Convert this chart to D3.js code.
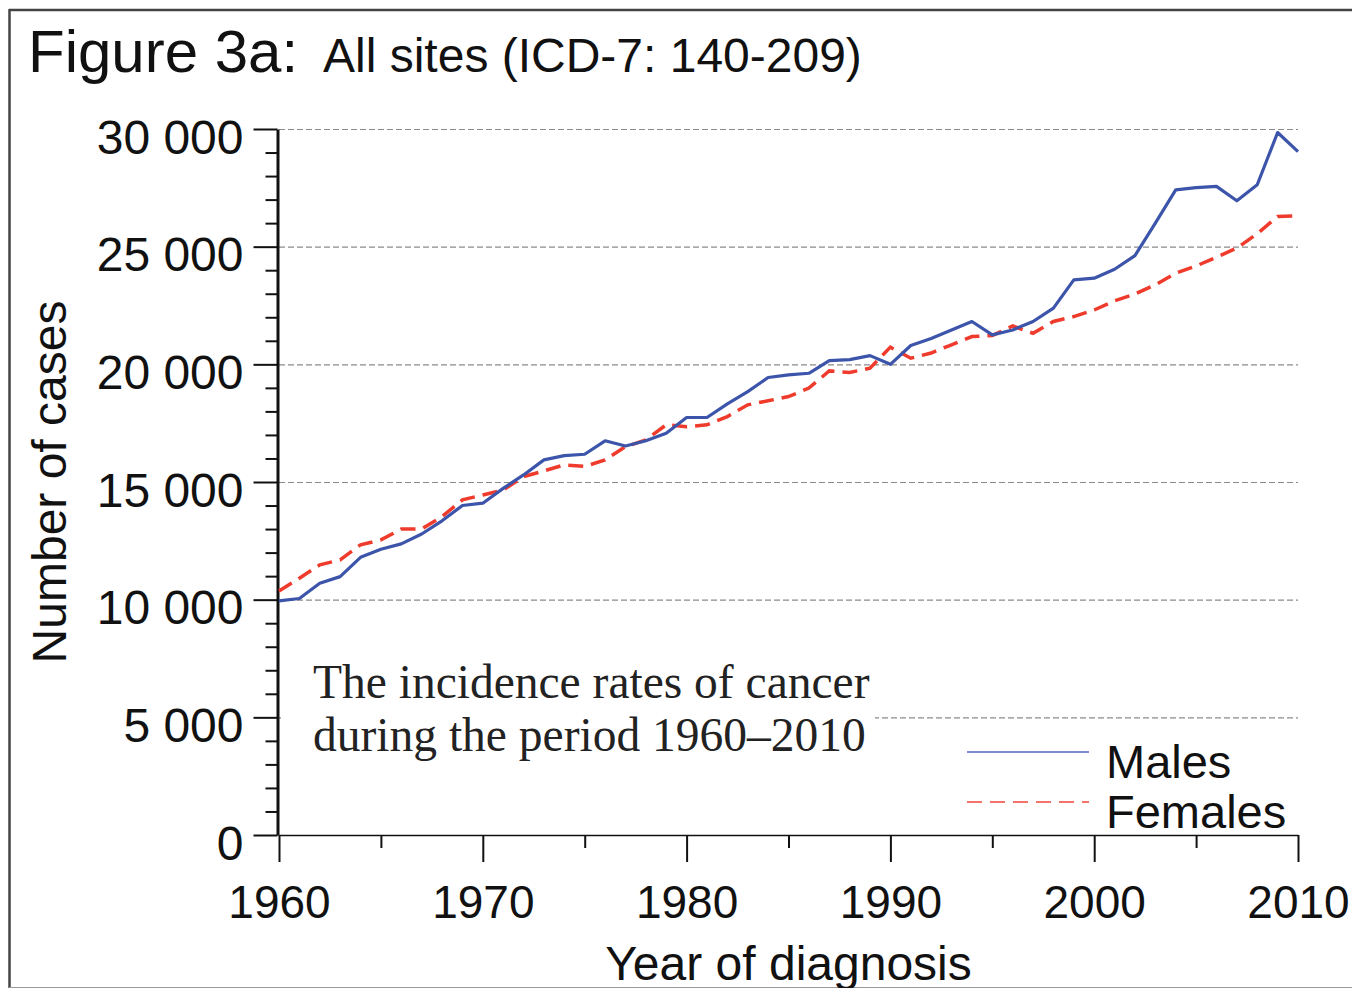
<!DOCTYPE html>
<html>
<head>
<meta charset="utf-8">
<script src="https://cdn.jsdelivr.net/npm/d3@7"></script>
<style>
  html, body { margin: 0; padding: 0; background: #fff; }
  svg { display: block; }
  text { font-family: "Liberation Sans", Arial, sans-serif; fill: #111; }
</style>
</head>
<body>
<div id="chart"></div>
<script>
// Figure 3a - number of cancer cases by year of diagnosis

const years = d3.range(1960, 2011);

const males = [
  9950, 10050, 10700, 10980, 11800, 12140, 12370, 12790, 13350, 14000,
  14100, 14730, 15300, 15940, 16120, 16180, 16750, 16530, 16750, 17070,
  17740, 17740, 18320, 18840, 19440, 19550, 19620, 20160, 20200, 20370,
  20000, 20800, 21100, 21460, 21820, 21250, 21460, 21820, 22390, 23590,
  23660, 24040, 24620, 26000, 27410, 27510, 27560, 26950, 27630, 29850,
  29040
];

const females = [
  10370, 10910, 11480, 11690, 12330, 12540, 13000, 13010, 13530, 14240,
  14450, 14660, 15230, 15470, 15730, 15660, 15940, 16500, 16790, 17430,
  17350, 17430, 17780, 18280, 18450, 18630, 18990, 19720, 19650, 19840,
  20730, 20260, 20480, 20830, 21180, 21220, 21630, 21320, 21820, 22030,
  22310, 22700, 22990, 23380, 23870, 24180, 24550, 24940, 25550, 26280,
  26310
];

const yMajorTicks = [0, 5000, 10000, 15000, 20000, 25000, 30000];
const yMinorTicks = d3.range(0, 30001, 1000).filter(v => v % 5000 !== 0);
const xMajorTicks = [1960, 1970, 1980, 1990, 2000, 2010];
const xMinorTicks = [1965, 1975, 1985, 1995, 2005];

const seriesNames = ["Males", "Females"];
const noteLines = ["The incidence rates of cancer", "during the period 1960\u20132010"];

const width = 1352, height = 988;

const svg = d3.select("#chart").append("svg")
  .attr("width", width)
  .attr("height", height);

// frame
svg.append("line").attr("x1", 9).attr("x2", width).attr("y1", 10).attr("y2", 10)
  .attr("stroke", "#444").attr("stroke-width", 2.5);
svg.append("line").attr("x1", 9.5).attr("x2", 9.5).attr("y1", 9).attr("y2", height)
  .attr("stroke", "#444").attr("stroke-width", 2.5);
svg.append("line").attr("x1", 9).attr("x2", width).attr("y1", 987.5).attr("y2", 987.5)
  .attr("stroke", "#999").attr("stroke-width", 1);

const x = d3.scaleLinear().domain([1960, 2010]).range([279, 1298]);
const y = d3.scaleLinear().domain([0, 30000]).range([835, 129]);

const fmt = d3.formatLocale({ decimal: ".", thousands: " ", grouping: [3], currency: ["", ""] }).format(",d");

// grid lines
svg.append("g")
  .selectAll("line")
  .data(yMajorTicks)
  .join("line")
  .attr("x1", x(1960)).attr("x2", x(2010))
  .attr("y1", d => y(d) + 0.5).attr("y2", d => y(d) + 0.5)
  .attr("stroke", "#8a8a8a")
  .attr("stroke-width", 1.2)
  .attr("stroke-dasharray", "6,3");

// note box hides part of the 5000 grid line
svg.append("rect")
  .attr("x", x(1960) + 2).attr("y", 662)
  .attr("width", 594).attr("height", 100)
  .attr("fill", "#fff");

svg.append("g")
  .selectAll("text")
  .data(noteLines)
  .join("text")
  .attr("x", 313)
  .attr("y", (d, i) => 698 + i * 53)
  .style("font-family", "'Liberation Serif', 'Times New Roman', serif")
  .style("font-size", "47.5px")
  .style("fill", "#222")
  .text(d => d);

// y axis
const yAxis = svg.append("g")
  .attr("transform", `translate(${x(1960) - 1.5},0)`)
  .call(d3.axisLeft(y).tickValues(yMajorTicks).tickSize(24).tickSizeOuter(0).tickPadding(10).tickFormat(fmt));
yAxis.select(".domain").attr("stroke", "#111").attr("stroke-width", 3);
yAxis.selectAll(".tick line").attr("stroke", "#111").attr("stroke-width", 2);
yAxis.selectAll(".tick text")
  .attr("dy", "0.5em")
  .style("font-size", "48px")
  .style("font-family", "'Liberation Sans', Arial, sans-serif");

svg.append("g")
  .attr("transform", `translate(${x(1960) - 1.5},0)`)
  .call(d3.axisLeft(y).tickValues(yMinorTicks).tickSize(12).tickFormat(""))
  .call(g => g.select(".domain").remove())
  .selectAll(".tick line").attr("stroke", "#111").attr("stroke-width", 2);

// x axis
const xAxis = svg.append("g")
  .attr("transform", `translate(0,${y(0)})`)
  .call(d3.axisBottom(x).tickValues(xMajorTicks).tickSize(27).tickSizeOuter(0).tickPadding(23).tickFormat(d3.format("d")));
xAxis.select(".domain").attr("stroke", "#111").attr("stroke-width", 1.5);
xAxis.selectAll(".tick line").attr("stroke", "#111").attr("stroke-width", 2);
xAxis.selectAll(".tick text")
  .style("font-size", "46px")
  .style("font-family", "'Liberation Sans', Arial, sans-serif");

svg.append("g")
  .attr("transform", `translate(0,${y(0)})`)
  .call(d3.axisBottom(x).tickValues(xMinorTicks).tickSize(13).tickFormat(""))
  .call(g => g.select(".domain").remove())
  .selectAll(".tick line").attr("stroke", "#111").attr("stroke-width", 2);

// series
const line = d3.line()
  .x((d, i) => x(years[i]))
  .y(d => y(d));

svg.append("path")
  .datum(females)
  .attr("d", line)
  .attr("fill", "none")
  .attr("stroke", "#ef3b2c")
  .attr("stroke-width", 3.5)
  .attr("stroke-dasharray", "15,8");

svg.append("path")
  .datum(males)
  .attr("d", line)
  .attr("fill", "none")
  .attr("stroke", "#3c55aa")
  .attr("stroke-width", 3.2)
  .attr("stroke-linejoin", "round");

// legend
const legend = svg.append("g");
const legendStyles = [
  { color: "#5468bf", dash: null, y: 752 },
  { color: "#f0443a", dash: "15,8", y: 802 }
];
seriesNames.forEach((name, i) => {
  const s = legendStyles[i];
  legend.append("line")
    .attr("x1", 967).attr("x2", 1089)
    .attr("y1", s.y).attr("y2", s.y)
    .attr("stroke", s.color)
    .attr("stroke-width", 1.6)
    .attr("stroke-dasharray", s.dash);
  legend.append("text")
    .attr("x", 1106)
    .attr("y", s.y + 26)
    .style("font-size", "47px")
    .text(name);
});

// titles
const title = svg.append("text").attr("x", 28).attr("y", 72);
title.append("tspan").style("font-size", "60px").text("Figure 3a:");
title.append("tspan").attr("x", 323).style("font-size", "48px").text("All sites (ICD-7: 140-209)");

svg.append("text")
  .attr("x", (x(1960) + x(2010)) / 2)
  .attr("y", 980)
  .attr("text-anchor", "middle")
  .style("font-size", "48px")
  .text("Year of diagnosis");

svg.append("text")
  .attr("transform", `translate(66,${(y(0) + y(30000)) / 2}) rotate(-90)`)
  .attr("text-anchor", "middle")
  .style("font-size", "48px")
  .text("Number of cases");
</script>
</body>
</html>
